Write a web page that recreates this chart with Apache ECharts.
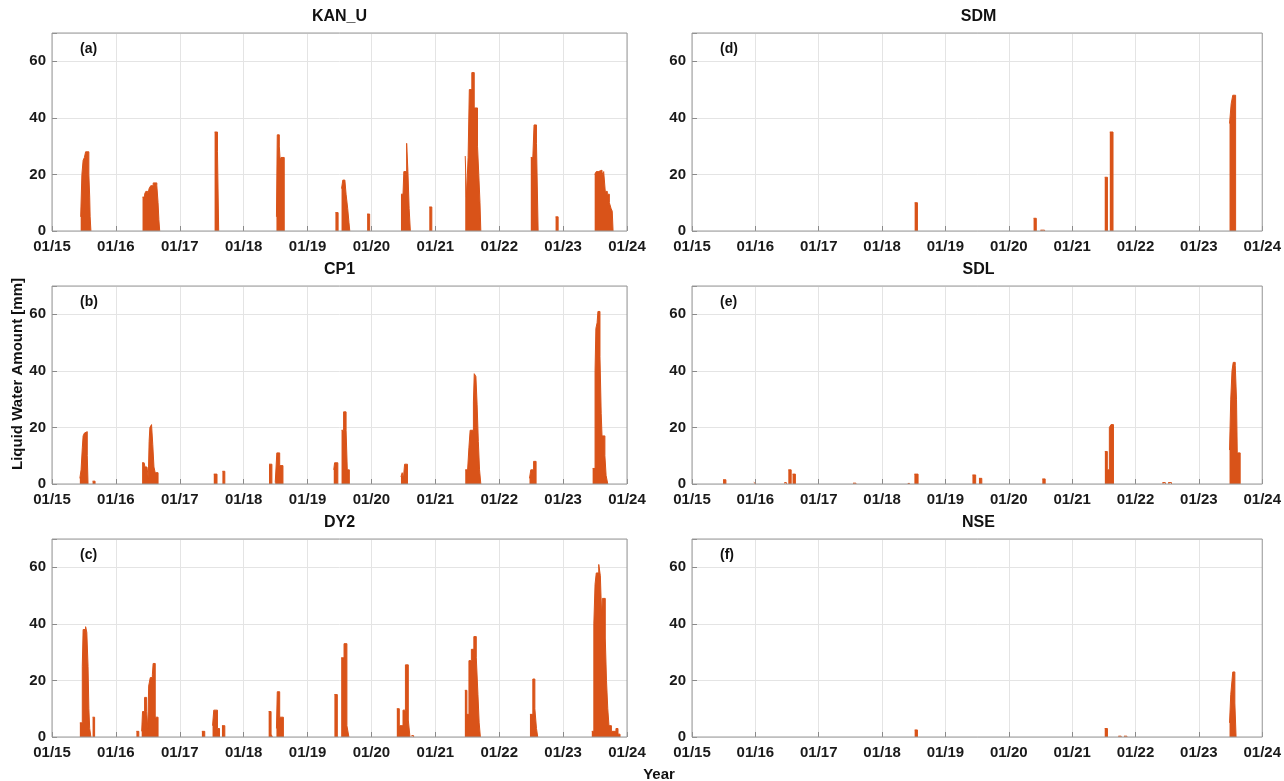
<!DOCTYPE html>
<html>
<head>
<meta charset="utf-8">
<script src="https://cdn.jsdelivr.net/npm/echarts@6/dist/echarts.min.js"></script>
<style>
  html, body { margin: 0; padding: 0; background: #fff; }
  #chart { width: 1284px; height: 781px; }
</style>
</head>
<body>
<div id="chart"></div>
<script>
// Station names and panel tags, in drawing order (left column, then right column)
const stations = ['KAN_U', 'CP1', 'DY2', 'SDM', 'SDL', 'NSE']
const tags = ['(a)', '(b)', '(c)', '(d)', '(e)', '(f)']
const yearTicks = [2015, 2016, 2017, 2018, 2019, 2020, 2021, 2022, 2023, 2024]
const yTicks = [0, 20, 40, 60]

// Melt seasons per station: [decimal year, liquid water mm], each season ends at 0
const kanU = [
  [[2015.449, 5], [2015.468, 20], [2015.487, 25], [2015.507, 26], [2015.526, 28], [2015.577, 20], [2015.590, 12], [2015.597, 5], [2015.609, 0]],
  [[2016.417, 12], [2016.449, 13], [2016.468, 14], [2016.500, 13], [2016.520, 15], [2016.545, 16], [2016.584, 17], [2016.641, 16], [2016.660, 10], [2016.673, 4], [2016.686, 0]],
  [[2017.545, 35], [2017.590, 28], [2017.609, 0]],
  [[2018.513, 5], [2018.526, 34], [2018.558, 30], [2018.571, 25], [2018.584, 26], [2018.635, 0]],
  [[2019.436, 6.5], [2019.478, 0]],
  [[2019.532, 15], [2019.552, 18], [2019.584, 18.5], [2019.603, 13], [2019.628, 8], [2019.648, 3], [2019.661, 0]],
  [[2019.932, 6], [2019.972, 0]],
  [[2020.462, 13], [2020.494, 13.5], [2020.507, 21], [2020.551, 31], [2020.571, 21], [2020.590, 8], [2020.609, 0]],
  [[2020.905, 8.5], [2020.945, 0]],
  [[2021.468, 26.5], [2021.487, 12], [2021.513, 26], [2021.532, 50], [2021.571, 56], [2021.609, 43.5], [2021.660, 30], [2021.680, 20], [2021.699, 10], [2021.712, 0]],
  [[2022.494, 26], [2022.526, 26.5], [2022.545, 37.5], [2022.583, 31], [2022.609, 0]],
  [[2022.882, 5], [2022.922, 0]],
  [[2023.494, 20], [2023.519, 21], [2023.551, 21.5], [2023.609, 20], [2023.635, 21], [2023.660, 14], [2023.692, 13], [2023.724, 10], [2023.750, 8], [2023.769, 7], [2023.782, 0]]
]
const cp1 = [
  [[2015.436, 2], [2015.455, 5], [2015.475, 13], [2015.487, 17], [2015.507, 18], [2015.532, 18.5], [2015.552, 10], [2015.564, 0]],
  [[2015.635, 1], [2015.674, 0]],
  [[2016.410, 7.5], [2016.442, 7], [2016.455, 6], [2016.487, 6], [2016.507, 2], [2016.520, 15], [2016.532, 20], [2016.558, 21], [2016.577, 14], [2016.596, 6], [2016.615, 4], [2016.660, 0]],
  [[2017.532, 3.5], [2017.583, 0]],
  [[2017.667, 4.5], [2017.705, 0]],
  [[2018.397, 7], [2018.442, 0]],
  [[2018.494, 0.5], [2018.519, 11], [2018.564, 6.5], [2018.615, 0]],
  [[2019.410, 5], [2019.423, 7.5], [2019.474, 0]],
  [[2019.532, 19], [2019.564, 25.5], [2019.603, 19], [2019.622, 5], [2019.654, 0]],
  [[2020.462, 2.5], [2020.481, 4], [2020.500, 2], [2020.519, 7], [2020.564, 0]],
  [[2021.468, 5], [2021.500, 3], [2021.526, 13], [2021.545, 19], [2021.596, 29], [2021.609, 39], [2021.635, 38], [2021.654, 28], [2021.673, 15], [2021.692, 5], [2021.712, 0]],
  [[2022.474, 2], [2022.494, 5], [2022.538, 8], [2022.577, 0]],
  [[2023.462, 5.5], [2023.500, 40], [2023.513, 55], [2023.532, 57], [2023.545, 61], [2023.577, 45], [2023.596, 25], [2023.609, 17], [2023.654, 10], [2023.673, 3], [2023.699, 0]]
]
const dy2 = [
  [[2015.436, 5], [2015.474, 25], [2015.487, 38], [2015.526, 39], [2015.545, 37], [2015.564, 25], [2015.577, 10], [2015.590, 3], [2015.609, 0]],
  [[2015.635, 7], [2015.667, 0]],
  [[2016.321, 2], [2016.359, 0]],
  [[2016.404, 2], [2016.417, 9], [2016.449, 14], [2016.481, 9], [2016.500, 3], [2016.513, 18], [2016.538, 21], [2016.571, 22], [2016.583, 26], [2016.616, 7], [2016.660, 0]],
  [[2017.346, 2], [2017.391, 0]],
  [[2017.513, 4], [2017.532, 9.5], [2017.590, 3], [2017.622, 0]],
  [[2017.660, 4], [2017.705, 0]],
  [[2018.391, 9], [2018.429, 1], [2018.449, 0]],
  [[2018.513, 3], [2018.526, 16], [2018.564, 7], [2018.622, 0]],
  [[2019.420, 15], [2019.466, 0]],
  [[2019.526, 28], [2019.571, 33], [2019.616, 4], [2019.647, 0]],
  [[2020.397, 10], [2020.436, 4], [2020.494, 9.5], [2020.532, 25.5], [2020.577, 6], [2020.603, 0]],
  [[2020.628, 0.5], [2020.660, 0]],
  [[2021.462, 16.5], [2021.494, 8], [2021.526, 27], [2021.564, 31], [2021.603, 35.5], [2021.641, 28], [2021.667, 15], [2021.686, 5], [2021.705, 0]],
  [[2022.481, 8], [2022.526, 20.5], [2022.558, 10], [2022.583, 3], [2022.603, 0]],
  [[2023.449, 2], [2023.481, 40], [2023.500, 54], [2023.519, 58], [2023.558, 61], [2023.583, 57], [2023.603, 43], [2023.615, 49], [2023.660, 35], [2023.679, 20], [2023.699, 10], [2023.718, 4], [2023.756, 2], [2023.827, 3], [2023.859, 1], [2023.891, 0]]
]
const sdm = [
  [[2018.514, 10], [2018.558, 0]],
  [[2020.391, 4.5], [2020.434, 0]],
  [[2020.500, 0.3], [2020.565, 0]],
  [[2021.514, 19], [2021.557, 0]],
  [[2021.594, 35], [2021.645, 0]],
  [[2023.484, 38], [2023.510, 45], [2023.535, 48], [2023.580, 0]]
]
const sdl = [
  [[2015.490, 1.5], [2015.535, 0]],
  [[2015.975, 0.6], [2016.005, 0]],
  [[2016.458, 0.5], [2016.490, 0]],
  [[2016.520, 5], [2016.565, 0]],
  [[2016.587, 3.5], [2016.632, 0]],
  [[2017.542, 0.3], [2017.587, 0]],
  [[2018.406, 0.2], [2018.438, 0]],
  [[2018.510, 3.5], [2018.568, 0]],
  [[2019.426, 3.2], [2019.477, 0]],
  [[2019.529, 2], [2019.574, 0]],
  [[2020.529, 1.8], [2020.574, 0]],
  [[2021.516, 11.5], [2021.555, 5], [2021.587, 20], [2021.613, 21], [2021.652, 0]],
  [[2022.426, 0.5], [2022.471, 0]],
  [[2022.516, 0.5], [2022.568, 0]],
  [[2023.484, 12], [2023.503, 30], [2023.523, 40], [2023.542, 43], [2023.574, 42], [2023.594, 30], [2023.606, 11], [2023.652, 0]]
]
const nse = [
  [[2018.514, 2.5], [2018.558, 0]],
  [[2021.514, 3], [2021.557, 0]],
  [[2021.729, 0.3], [2021.774, 0]],
  [[2021.819, 0.3], [2021.864, 0]],
  [[2023.484, 5], [2023.503, 15], [2023.523, 20], [2023.535, 23], [2023.568, 12], [2023.587, 0]]
]
const stationData = [kanU, cp1, dy2, sdm, sdl, nse]

const BAR = '#D95319'
const FONT = '"Liberation Sans", Arial, sans-serif'

const chart = echarts.init(document.getElementById('chart'), null, { renderer: 'canvas' })

// panel layout: 3 rows x 2 columns
const colLeft = [52, 692]
const colWidth = [575, 573]
const rowTop = [33, 286, 539]
const plotH = 198

const grids = [], xAxes = [], yAxes = [], series = [], graphics = []

stations.forEach((name, i) => {
  const col = i < 3 ? 0 : 1
  const row = i % 3
  const left = colLeft[col], top = rowTop[row], width = colWidth[col]

  grids.push({
    left, top, width, height: plotH, show: true, z: 5,
    borderColor: '#9a9a9a', borderWidth: 1, backgroundColor: 'rgba(0,0,0,0)'
  })

  const tick = { show: true, inside: true, length: 5, lineStyle: { color: '#8a8a8a' } }

  xAxes.push({
    gridIndex: i, type: 'value', min: yearTicks[0], max: yearTicks[yearTicks.length - 1], interval: 1,
    axisLine: { show: false }, axisTick: tick,
    axisLabel: {
      color: '#1a1a1a', fontWeight: 'bold', fontSize: 15, fontFamily: FONT, margin: 8,
      formatter: v => '01/' + String(v).slice(2)
    },
    splitLine: { show: true, lineStyle: { color: '#e4e4e4', width: 1 } }
  })
  yAxes.push({
    gridIndex: i, type: 'value', min: 0, max: 70, interval: 20,
    axisLine: { show: false }, axisTick: tick,
    axisLabel: {
      color: '#1a1a1a', fontWeight: 'bold', fontSize: 15, fontFamily: FONT, margin: 6,
      formatter: v => (yTicks.includes(v) ? String(v) : '')
    },
    splitLine: { show: true, lineStyle: { color: '#e4e4e4', width: 1 } }
  })

  const data = []
  stationData[i].forEach(season => {
    season.forEach(p => data.push(p))
    data.push([season[season.length - 1][0], '-'])
  })

  series.push({
    name, type: 'line', xAxisIndex: i, yAxisIndex: i, step: 'end',
    showSymbol: false, connectNulls: false, animation: false, z: 2,
    lineStyle: { color: BAR, width: 1 },
    areaStyle: { color: BAR, opacity: 1 },
    data
  })

  graphics.push({
    type: 'text', x: left + width / 2, y: top - 16,
    style: { text: name, fill: '#111', font: 'bold 16px ' + FONT, textAlign: 'center', textVerticalAlign: 'middle' }
  })
  graphics.push({
    type: 'text', x: left + 28, y: top + 16,
    style: { text: tags[i], fill: '#111', font: 'bold 14px ' + FONT, textAlign: 'left', textVerticalAlign: 'middle' }
  })
})

// shared axis titles
graphics.push({
  type: 'text', x: 18, y: 374, rotation: Math.PI / 2,
  style: { text: 'Liquid Water Amount [mm]', fill: '#111', font: 'bold 15px ' + FONT, textAlign: 'center', textVerticalAlign: 'middle' }
})
graphics.push({
  type: 'text', x: 659, y: 775,
  style: { text: 'Year', fill: '#111', font: 'bold 15px ' + FONT, textAlign: 'center', textVerticalAlign: 'middle' }
})

chart.setOption({
  backgroundColor: '#fff',
  animation: false,
  grid: grids,
  xAxis: xAxes,
  yAxis: yAxes,
  series,
  graphic: graphics
})
</script>
</body>
</html>
